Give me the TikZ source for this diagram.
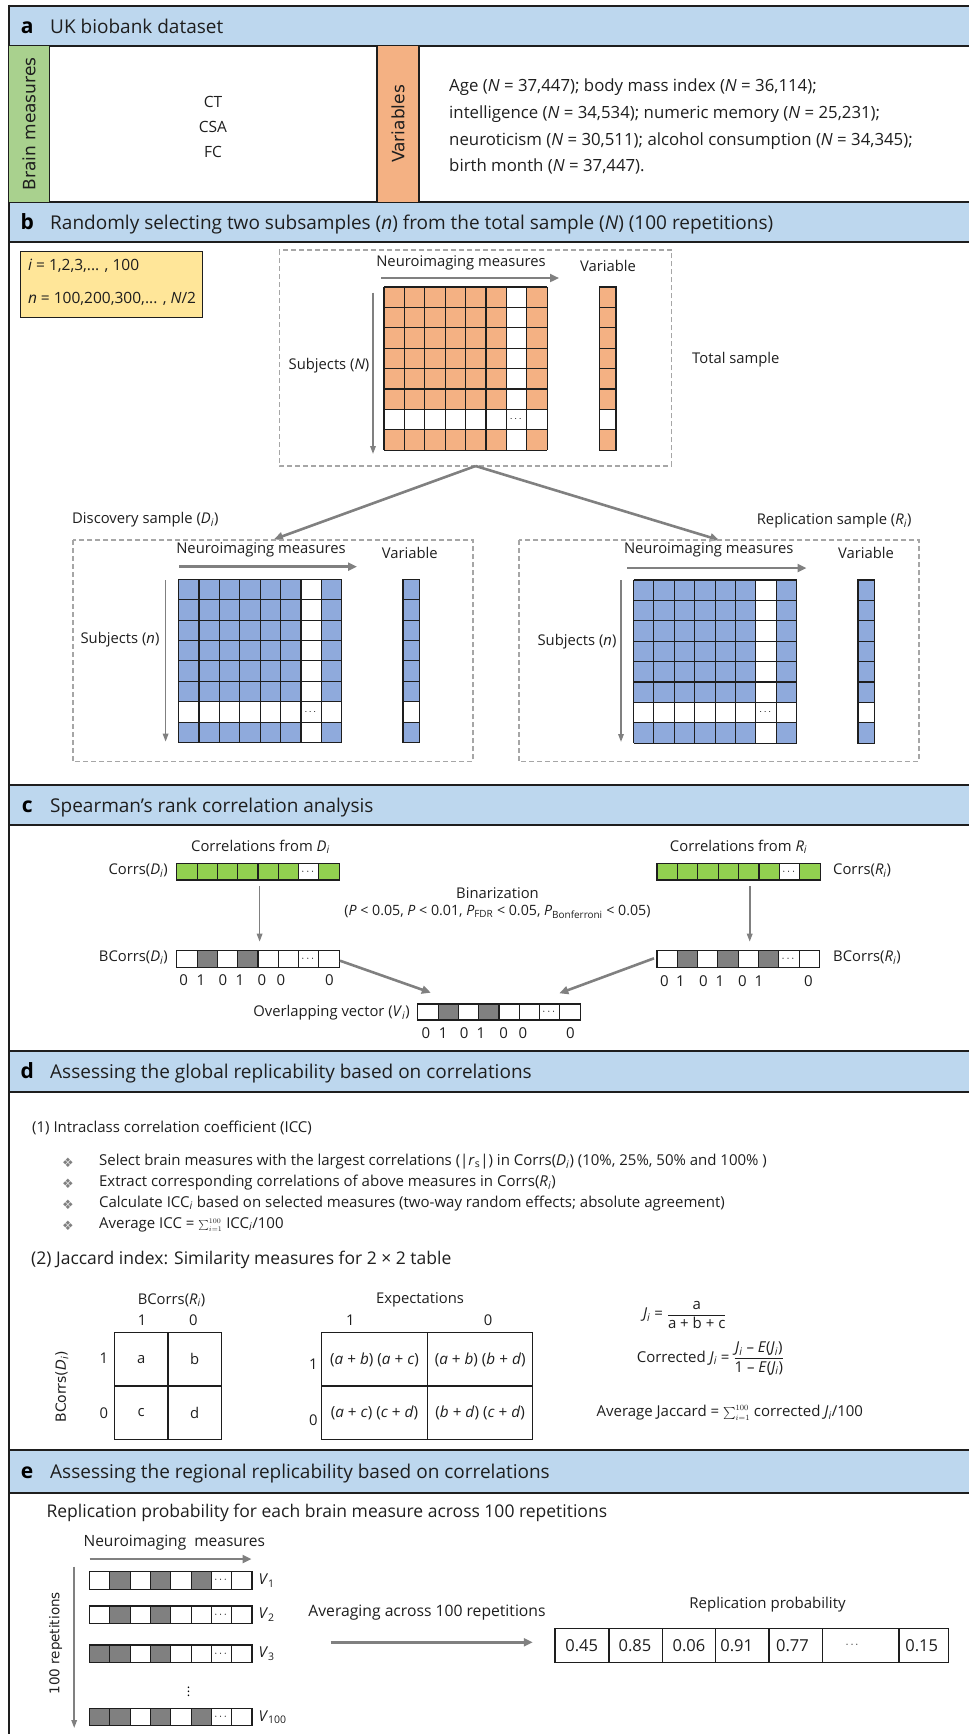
\documentclass[tikz,border=0pt]{standalone}
\usepackage{fontspec}
\usepackage{amsmath}
\setmainfont{Open Sans}
\newfontfamily\djv{DejaVu Sans}
\usetikzlibrary{arrows.meta}
\definecolor{hblue}{HTML}{BDD7EE}
\definecolor{bgreen}{HTML}{A9D18E}
\definecolor{borange}{HTML}{F4B183}
\definecolor{ybox}{HTML}{FFE699}
\definecolor{cblue}{HTML}{8FAADC}
\definecolor{cgreen}{HTML}{92D050}
\definecolor{cgray}{HTML}{808080}
\definecolor{agray}{HTML}{808080}
\definecolor{dgray}{HTML}{A6A6A6}
\definecolor{lineblack}{HTML}{1E1E1E}
\newcommand{\fsz}[1]{\fontsize{#1}{#1}\selectfont}
\newcommand{\mkhdr}[5]{%
  \fill[hblue] (8.7,#1) rectangle (969,#2);
  \draw[line width=2pt, draw=lineblack] (8.7,#1) -- (969,#1);
  \draw[line width=2pt, draw=lineblack] (8.7,#2) -- (969,#2);
  \node[hdrlet] at (27.2,{(#1+#2)/2+7.5}) {#3};
  \node[hdrtxt] (#5) at (50,{(#1+#2)/2+7.5}) {#4};
}
\newcommand{\mkgrid}[3]{%
  \fill[#3] (#1,#2) rectangle ++(163.2,163.2);
  \fill[white] ({#1+122.4},#2) rectangle ++(20.4,163.2);
  \fill[white] (#1,{#2+122.4}) rectangle ++(163.2,20.4);
  \foreach \k in {0,...,8} {
    \draw[cellline] ({#1+\k*20.4},#2) -- ++(0,163.2);
    \draw[cellline] (#1,{#2+\k*20.4}) -- ++(163.2,0);
  }
  \node[inner sep=0pt,font=\fsz{10}] at ({#1+132.6},{#2+132.6}) {$\cdots$};
}
\newcommand{\mkvcol}[3]{%
  \foreach \k in {0,...,7} {\draw[cellline, fill=#3] (#1,{#2+\k*20.4}) rectangle ++(16.5,20.4);}
  \draw[cellline, fill=white] (#1,{#2+6*20.4}) rectangle ++(16.5,20.4);
}
\newcommand{\mkbar}[5]{%
  \foreach \f [count=\i from 0] in {#5} {
    \draw[cellline, fill=\f] ({#1+\i*#3},#2) rectangle ++(#3,#4);
  }
  \node[inner sep=0pt,font=\fsz{11}] at ({#1+6.5*#3},{#2+0.5*#4}) {$\cdots$};
}
\begin{document}
\begin{tikzpicture}[x=1pt,y=-1pt,
  txt/.style={inner sep=0pt, font=\fsz{14.8}, text=lineblack},
  vtxt/.style={inner sep=0pt, font=\fsz{16.8}, text=lineblack, anchor=mid west},
  btxt/.style={inner sep=0pt, font=\fsz{15}, text=lineblack, anchor=mid west},
  hdrtxt/.style={inner sep=0pt, anchor=base west, font=\fsz{19}, text=lineblack},
  hdrlet/.style={inner sep=0pt, anchor=base, font=\fsz{21}\bfseries, text=black},
  cellline/.style={draw=lineblack, line width=1.1pt},
  thickarr/.style={draw=agray, line width=2.6pt, -{Triangle[length=9pt,width=8pt]}},
  thinarr/.style={draw=agray, line width=1.6pt, -{Triangle[length=8pt,width=5.5pt]}},
  dashbox/.style={draw=dgray, line width=1.2pt, dash pattern=on 5pt off 3pt},
  rottxt/.style={inner sep=0pt, rotate=90, font=\djv\fsz{17}, text=lineblack},
  dig/.style={inner sep=0pt, font=\fsz{15}, text=lineblack},
]
\useasboundingbox (0,0) rectangle (969,1734);
% ---------- headers
\mkhdr{5.7}{46.5}{a}{UK biobank dataset}{ha}
\mkhdr{201.5}{241.7}{b}{Randomly selecting two subsamples (\textit{n}) from the total sample (\textit{N}) (100 repetitions)}{hb}
\mkhdr{785}{825}{c}{Spearman’s rank correlation analysis}{hc}
\mkhdr{1050.7}{1091.7}{d}{Assessing the global replicability based on correlations}{hd}
\mkhdr{1450}{1492.7}{e}{Assessing the regional replicability based on correlations}{he}
\draw[line width=2pt, draw=lineblack] (8.7,4.7) -- (8.7,1734);
% ---------- a
\fill[bgreen] (8.7,46.5) rectangle (49.5,201.5);
\fill[borange] (377,46.5) rectangle (419,201.5);
\draw[line width=1.5pt, draw=lineblack] (49.5,46.5) -- (49.5,201.5);
\draw[line width=1.5pt, draw=lineblack] (377,46.5) -- (377,201.5);
\draw[line width=1.5pt, draw=lineblack] (419,46.5) -- (419,201.5);
\node[rottxt] (bm) at (29.1,124) {Brain measures};
\node[rottxt] (vars) at (398,124) {Variables};
\node[txt, font=\fsz{15.5}] (ct) at (213,101.7) {CT};
\node[txt, font=\fsz{15.5}] (csa) at (213,126.7) {CSA};
\node[txt, font=\fsz{15.5}] (fc) at (213,151.7) {FC};
\node[vtxt] (va1) at (449,89.3) {Age (\textit{N} = 37,447); body mass index (\textit{N} = 36,114);};
\node[vtxt] (va2) at (449,116.3) {intelligence (\textit{N} = 34,534); numeric memory (\textit{N} = 25,231);};
\node[vtxt] (va3) at (449,142.7) {neuroticism (\textit{N} = 30,511); alcohol consumption (\textit{N} = 34,345);};
\node[vtxt] (va4) at (449,169.3) {birth month (\textit{N} = 37,447).};
% ---------- b
\draw[fill=ybox, draw=lineblack, line width=1.5pt] (20.4,251.7) rectangle (202.7,317.3);
\node[txt, anchor=mid west, font=\fsz{15.5}] (yi) at (27.8,268.3) {\textit{i} = 1,2,3,... , 100};
\node[txt, anchor=mid west, font=\fsz{15.5}] (yn) at (27.8,301) {\textit{n} = 100,200,300,... , \textit{N}/2};
\draw[dashbox] (279.4,250) rectangle (671.8,466);
\node[txt] (nmT) at (461,262.7) {Neuroimaging measures};
\coordinate (aTs) at (381,278); \coordinate (aTe) at (559,278);
\draw[thickarr] (aTs) -- (aTe);
\node[txt] (varT) at (608,266) {Variable};
\mkgrid{384}{287}{borange}
\mkvcol{599.5}{287}{borange}
\node[txt] (subT) at (329,365.7) {Subjects (\textit{N})};
\coordinate (vTs) at (373,292.7); \coordinate (vTe) at (373,454);
\draw[thinarr] (vTs) -- (vTe);
\node[txt, anchor=mid west] (tot) at (692,361) {Total sample};
\coordinate (apex) at (475.6,466);
\coordinate (dtop) at (274,539.3);
\coordinate (rtop) at (719,540);
\draw[thickarr] (apex) -- (dtop);
\draw[thickarr] (apex) -- (rtop);
\node[txt, anchor=mid west] (disc) at (72,520.7) {Discovery sample (\textit{D}\textsubscript{\textit{i}})};
\node[txt, anchor=mid east] (repl) at (911.6,521.7) {Replication sample (\textit{R}\textsubscript{\textit{i}})};
% left sample
\draw[dashbox] (73,540) rectangle (473,761.7);
\node[txt] (nmD) at (261,550) {Neuroimaging measures};
\coordinate (aDs) at (179,566.7); \coordinate (aDe) at (357,566.7);
\draw[thickarr] (aDs) -- (aDe);
\node[txt] (varD) at (409.8,552.7) {Variable};
\mkgrid{178.6}{579.3}{cblue}
\mkvcol{403}{579.3}{cblue}
\node[txt] (subD) at (120,640) {Subjects (\textit{n})};
\coordinate (vDs) at (165.6,580); \coordinate (vDe) at (165.6,741.7);
\draw[thinarr] (vDs) -- (vDe);
% right sample
\draw[dashbox] (519,540) rectangle (919,761.7);
\node[txt] (nmR) at (708.7,550) {Neuroimaging measures};
\coordinate (aRs) at (627,568); \coordinate (aRe) at (806.5,568);
\draw[thickarr] (aRs) -- (aRe);
\node[txt] (varR) at (866,553) {Variable};
\mkgrid{633.5}{580}{cblue}
\mkvcol{858}{580}{cblue}
\node[txt] (subR) at (577,642) {Subjects (\textit{n})};
\coordinate (vRs) at (621,580); \coordinate (vRe) at (621,742);
\draw[thinarr] (vRs) -- (vRe);
% ---------- c
\node[txt] (cfD) at (260.5,846.7) {Correlations from \textit{D}\textsubscript{\textit{i}}};
\node[txt, anchor=mid east] (corD) at (168,871.7) {Corrs(\textit{D}\textsubscript{\textit{i}})};
\mkbar{176.8}{863.3}{20.3}{16.7}{cgreen,cgreen,cgreen,cgreen,cgreen,cgreen,white,cgreen}
\coordinate (cDs) at (259.6,886); \coordinate (cDe) at (259.6,941.7);
\draw[thinarr] (cDs) -- (cDe);
\node[txt] (bin) at (497.5,893.3) {Binarization};
\node[txt, font=\fsz{14.2}] (pvals) at (497.5,911.7) {(\textit{P} < 0.05, \textit{P} < 0.01, \textit{P}\textsubscript{FDR} < 0.05, \textit{P}\textsubscript{Bonferroni} < 0.05)};
\node[txt, anchor=mid east] (bcD) at (168,959.3) {BCorrs(\textit{D}\textsubscript{\textit{i}})};
\mkbar{176.8}{950.7}{20.3}{16.6}{white,cgray,white,cgray,white,white,white,white}
\foreach \xx/\dd in {183.6/0,200.9/1,223/0,239.8/1,262/0,281/0,329.4/0} {\node[dig] at (\xx,980) {\dd};}
\coordinate (bDs) at (340,960.7); \coordinate (bDe) at (430.8,992.7);
\draw[thickarr] (bDs) -- (bDe);
\node[txt] (cfR) at (738.6,846.7) {Correlations from \textit{R}\textsubscript{\textit{i}}};
\mkbar{657}{863.3}{20.4}{16.7}{cgreen,cgreen,cgreen,cgreen,cgreen,cgreen,white,cgreen}
\node[txt, anchor=mid west] (corR) at (833,871.7) {Corrs(\textit{R}\textsubscript{\textit{i}})};
\coordinate (cRs) at (749.7,886); \coordinate (cRe) at (749.7,941.7);
\draw[thinarr] (cRs) -- (cRe);
\mkbar{657}{950.7}{20.3}{16.6}{white,cgray,white,cgray,white,cgray,white,white}
\node[txt, anchor=mid west] (bcR) at (833,959) {BCorrs(\textit{R}\textsubscript{\textit{i}})};
\foreach \xx/\dd in {664.4/0,680.5/1,703.3/0,720/1,742.3/0,759/1,808.4/0} {\node[dig] at (\xx,980.7) {\dd};}
\coordinate (bRs) at (654,958.3); \coordinate (bRe) at (559.3,993.3);
\draw[thickarr] (bRs) -- (bRe);
\node[txt, anchor=mid east] (ovl) at (410,1014.3) {Overlapping vector (\textit{V}\textsubscript{\textit{i}})};
\mkbar{417.8}{1004}{20.3}{16}{white,cgray,white,cgray,white,white,white,white}
\foreach \xx/\dd in {425.8/0,443.1/1,464.2/0,480.8/1,503.7/0,522.9/0,570.5/0} {\node[dig] at (\xx,1033.3) {\dd};}
% ---------- d
\node[btxt] (icc) at (32,1130) {(1) Intraclass correlation coefficient (ICC)};
\foreach \yy in {1162.7,1184,1204.5,1225.5} {\node[inner sep=0pt, font=\djv\fsz{13}, text=cgray] at (68,\yy) {❖};}
\node[btxt] (bl1) at (98.9,1162.7) {Select brain measures with the largest correlations (|\textit{r}\textsubscript{s}|) in Corrs(\textit{D}\textsubscript{\textit{i}}) (10\%, 25\%, 50\% and 100\% )};
\node[btxt] (bl2) at (98.9,1184) {Extract corresponding correlations of above measures in Corrs(\textit{R}\textsubscript{\textit{i}})};
\node[btxt] (bl3) at (98.9,1204.5) {Calculate ICC\textsubscript{\textit{i}} based on selected measures (two-way random effects; absolute agreement)};
\node[btxt] (bl4) at (98.9,1225.5) {Average ICC = {\fsz{10}$\sum\nolimits_{i=1}^{100}$} ICC\textsubscript{\textit{i}}/100};
\node[txt, anchor=mid west, font=\fsz{17.5}] (jac) at (31,1261.7) {(2) Jaccard index: Similarity measures for 2 × 2 table};
% table 1
\node[txt] (t1h) at (171.5,1300) {BCorrs(\textit{R}\textsubscript{\textit{i}})};
\node[txt] (t1c1) at (142,1320) {1};
\node[txt] (t1c0) at (193.4,1320) {0};
\draw[cellline] (114.3,1332.7) rectangle (221.3,1439.3);
\draw[cellline] (168,1332.7) -- (168,1439.3);
\draw[cellline] (114.3,1386) -- (221.3,1386);
\node[txt] (ca) at (141.2,1359.4) {a};
\node[txt] (cb) at (194.6,1359.4) {b};
\node[txt] (cc) at (141.2,1412.7) {c};
\node[txt] (cd) at (194.6,1412.7) {d};
\node[inner sep=0pt, rotate=90, font=\djv\fsz{14}, text=lineblack] (t1v) at (61.8,1386.7) {BCorrs(\textit{D}\textsubscript{\textit{i}})};
\node[txt] (t1r1) at (103.8,1358) {1};
\node[txt] (t1r0) at (103.8,1413) {0};
% table 2
\node[txt] (t2h) at (420,1300) {Expectations};
\node[txt] (t2c1) at (350.4,1320) {1};
\node[txt] (t2c0) at (488,1320) {0};
\draw[cellline] (321.4,1332.7) rectangle (532.8,1439.3);
\draw[cellline] (427.7,1332.7) -- (427.7,1439.3);
\draw[cellline] (321.4,1386) -- (532.8,1386);
\node[txt, font=\fsz{15.3}] (e11) at (374.5,1359.4) {(\textit{a} + \textit{b}) (\textit{a} + \textit{c})};
\node[txt, font=\fsz{15.3}] (e10) at (480.2,1359.4) {(\textit{a} + \textit{b}) (\textit{b} + \textit{d})};
\node[txt, font=\fsz{15.3}] (e01) at (374.5,1412.7) {(\textit{a} + \textit{c}) (\textit{c} + \textit{d})};
\node[txt, font=\fsz{15.3}] (e00) at (480.2,1412.7) {(\textit{b} + \textit{d}) (\textit{c} + \textit{d})};
\node[txt] (t2r1) at (313.4,1364) {1};
\node[txt] (t2r0) at (313.4,1420) {0};
% formulas
\node[txt, anchor=west, font=\fsz{15}] (fj) at (642.8,1315) {\textit{J}\textsubscript{\textit{i}} = $\displaystyle\frac{\text{a}}{\text{a + b + c}}$};
\node[txt, anchor=west, font=\fsz{15}] (fcj) at (636.6,1358.3) {Corrected \textit{J}\textsubscript{\textit{i}} = $\displaystyle\frac{\text{\textit{J}\textsubscript{\textit{i}} – \textit{E}(\textit{J}\textsubscript{\textit{i}})}}{\text{1 – \textit{E}(\textit{J}\textsubscript{\textit{i}})}}$};
\node[btxt] (faj) at (596.4,1414) {Average Jaccard = {\fsz{12}$\sum\nolimits_{i=1}^{100}$} corrected \textit{J}\textsubscript{\textit{i}}/100};
% ---------- e
\node[txt, anchor=mid west, font=\fsz{17.5}] (rpt) at (46.4,1515) {Replication probability for each brain measure across 100 repetitions};
\node[txt, anchor=mid west, font=\fsz{15.5}] (nmE) at (83.4,1543.5) {Neuroimaging\ \ measures};
\coordinate (aEs) at (89.6,1559); \coordinate (aEe) at (251.5,1559);
\draw[thickarr] (aEs) -- (aEe);
\coordinate (vEs) at (74.2,1566.7); \coordinate (vEe) at (74.2,1728);
\draw[thinarr] (vEs) -- (vEe);
\node[inner sep=0pt, rotate=90, font=\djv\fsz{13.5}, text=lineblack] (rep100) at (55.6,1643.3) {100 repetitions};
\mkbar{89.6}{1571.7}{20.3}{17.5}{white,cgray,white,cgray,white,cgray,white,white}
\mkbar{89.6}{1606}{20.3}{17.5}{white,cgray,white,cgray,white,white,white,white}
\mkbar{89.6}{1645}{20.3}{17.5}{cgray,cgray,white,cgray,white,white,white,white}
\mkbar{89.6}{1708.3}{20.3}{17.5}{cgray,cgray,white,cgray,white,cgray,white,white}
\node[btxt] (V1) at (258.3,1582) {\textit{V}\textsubscript{1}};
\node[btxt] (V2) at (258.3,1616.3) {\textit{V}\textsubscript{2}};
\node[btxt] (V3) at (258.3,1655.3) {\textit{V}\textsubscript{3}};
\node[btxt] (V100) at (258.3,1718.6) {\textit{V}\textsubscript{100}};
\node[inner sep=0pt, font=\fsz{13}] (vdots) at (188.5,1689.3) {$\vdots$};
\node[txt, font=\fsz{15.7}] (avg) at (427,1612.3) {Averaging across 100 repetitions};
\coordinate (aAs) at (330.7,1642.3); \coordinate (aAe) at (532.8,1642.3);
\draw[thickarr] (aAs) -- (aAe);
\node[txt, font=\fsz{15}] (rph) at (767.5,1605) {Replication probability};
\draw[cellline] (555,1628.3) rectangle (948.3,1662.7);
\foreach \xx in {609,662.3,715.7,769,822.3,899} {\draw[cellline] (\xx,1628.3) -- (\xx,1662.7);}
\foreach \xx/\vv in {581.7/0.45,635/0.85,689/0.06,736.7/0.91,792.5/0.77,921.7/0.15} {\node[txt, font=\fsz{16.5}] at (\xx,1645.5) {\vv};}
\node[inner sep=0pt, font=\fsz{11}] (pdots) at (853,1645.5) {$\cdots$};
\end{tikzpicture}
\end{document}
